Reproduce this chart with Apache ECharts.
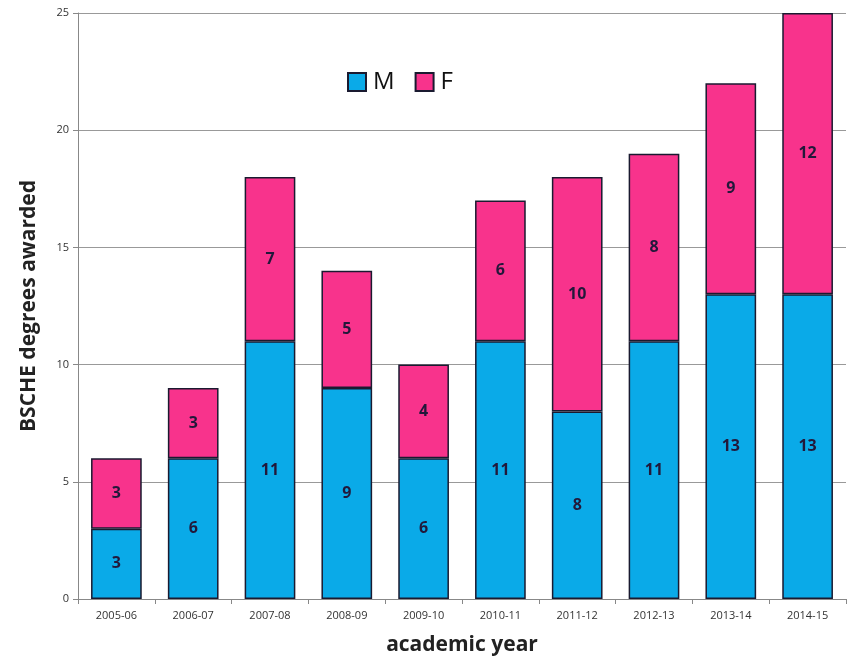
<!DOCTYPE html>
<html><head><meta charset="utf-8">
<script src="https://cdn.jsdelivr.net/npm/echarts@6/dist/echarts.min.js"></script>
<style>html,body{margin:0;padding:0;background:#fff}#c{width:850px;height:661px}</style>
</head><body><div id="c"></div>
<script>
const years = ['2005-06','2006-07','2007-08','2008-09','2009-10','2010-11','2011-12','2012-13','2013-14','2014-15'];
const male = [3,6,11,9,6,11,8,11,13,13];
const female = [3,3,7,5,4,6,10,8,9,12];
const yTicks = [0,5,10,15,20,25];

const chart = echarts.init(document.getElementById('c'));
const lbl = {show:true, position:'inside', color:'#22183a', fontWeight:'bold', fontSize:16, fontFamily:'Open Sans'};
chart.setOption({
  animation:false,
  grid:{left:78, right:4, top:13, bottom:59},
  legend:{
    top:65, left:342, itemWidth:18, itemHeight:18, itemGap:20,
    textStyle:{fontSize:24, color:'#111', fontFamily:'Open Sans', padding:[0,0,0,2]},
    data:[{name:'M', icon:'rect'},{name:'F', icon:'rect'}]
  },
  xAxis:{
    type:'category', data:years,
    name:'academic year', nameLocation:'middle', nameGap:36,
    nameTextStyle:{fontSize:21, fontWeight:'bold', color:'#222', fontFamily:'Open Sans'},
    axisLine:{lineStyle:{color:'#888'}},
    axisTick:{show:true, length:5, lineStyle:{color:'#888'}},
    axisLabel:{fontSize:11, color:'#333', margin:11, fontFamily:'Open Sans'}
  },
  yAxis:{
    type:'value', min:0, max:25, interval:5,
    name:'BSCHE degrees awarded', nameLocation:'middle', nameGap:38,
    nameTextStyle:{fontSize:21, fontWeight:'bold', color:'#222', fontFamily:'Open Sans'},
    axisLine:{show:true, lineStyle:{color:'#888'}},
    axisTick:{show:true, length:5, inside:false, lineStyle:{color:'#888'}},
    axisLabel:{fontSize:11, color:'#333', margin:9, fontFamily:'Open Sans'},
    splitLine:{lineStyle:{color:'#999'}}
  },
  series:[
    {name:'M', type:'bar', stack:'a', data:male, barWidth:'66%',
     itemStyle:{color:'#0AAAE8', borderColor:'#1a1a30', borderWidth:1.5}, label:lbl},
    {name:'F', type:'bar', stack:'a', data:female, barWidth:'66%',
     itemStyle:{color:'#F8338C', borderColor:'#1a1a30', borderWidth:1.5}, label:lbl}
  ]
});
</script></body></html>
